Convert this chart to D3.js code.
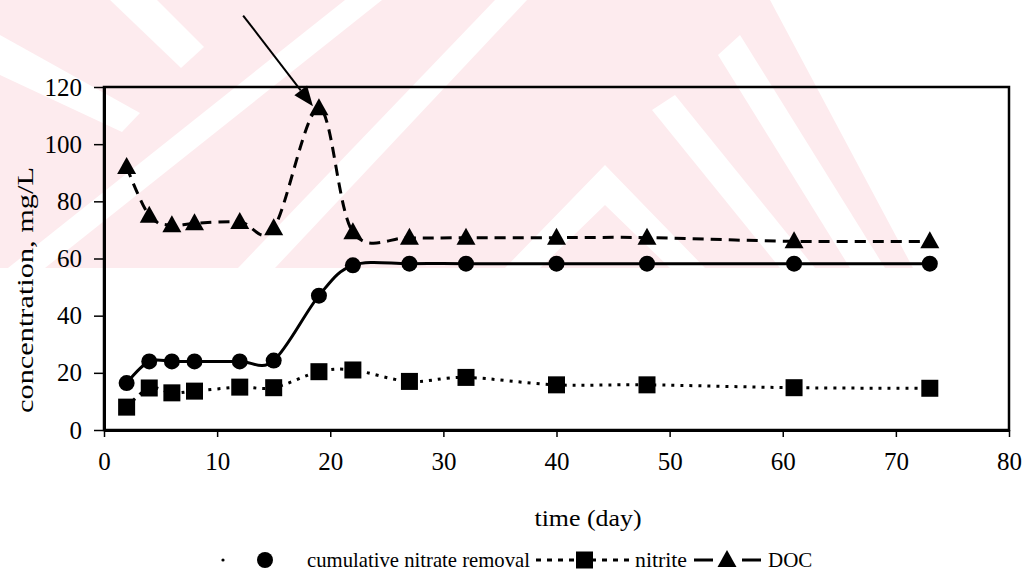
<!DOCTYPE html>
<html><head><meta charset="utf-8">
<script src="https://cdn.jsdelivr.net/npm/d3@7"></script>
<style>body{margin:0;background:#fff;} svg{display:block;}</style>
</head><body>
<svg id="chart" width="1027" height="574"></svg>
<script>
// ---- data ----
const days    = [2, 4, 6, 8, 12, 15, 19, 22, 27, 32, 40, 48, 61, 73];
const nitrate = [16.4, 24, 24, 24, 24, 24.3, 47, 57.6, 58.2, 58.2, 58.2, 58.2, 58.2, 58.2];
const nitrite = [8, 14.7, 13, 13.6, 15, 14.8, 20.4, 21, 17, 18.4, 15.8, 15.8, 14.8, 14.6];
const doc     = [92, 75, 71.6, 72.3, 72.8, 70.6, 112.6, 69.2, 67.3, 67.3, 67.3, 67.3, 66, 66];
const xTicks  = [0, 10, 20, 30, 40, 50, 60, 70, 80];
const yTicks  = [0, 20, 40, 60, 80, 100, 120];
const seriesNames = ["cumulative nitrate removal", "nitrite", "DOC"];
const xTitle = "time (day)";
const yTitle = "concentration, mg/L";
const peakDay = 19; // annotated DOC peak

const svg = d3.select("#chart");
const font = "Liberation Serif";

// ---- watermark (faint pink chevrons) ----
const wm = svg.append("g");
wm.append("polygon").attr("points", "0,0 770,0 913,268 0,268").attr("fill", "#fdebee");
const whites = [
  "110,0 157,0 204,47 181,68",
  "0,35 0,75 122,132 140,113",
  "8,268 45,268 382,0 345,0",
  "238,268 275,268 527,0 495,0",
  "505,268 605,165 705,268 670,268 605,205 540,268",
  "652,110 675,95 815,268 780,268",
  "718,55 740,35 885,268 850,268"
];
wm.selectAll("polygon.w").data(whites).enter().append("polygon")
  .attr("class", "w").attr("points", d => d).attr("fill", "#fff");

// ---- scales ----
const x = d3.scaleLinear().domain([0, 80]).range([104, 1009]);
const y = d3.scaleLinear().domain([0, 120]).range([430, 87]);

// frame
svg.append("rect").attr("x", x(0)).attr("y", y(120))
  .attr("width", x(80) - x(0)).attr("height", y(0) - y(120))
  .attr("fill", "none").attr("stroke", "#000").attr("stroke-width", 2.5);

// axes
const gy = svg.append("g").attr("transform", `translate(${x(0)},0)`)
  .call(d3.axisLeft(y).tickValues(yTicks).tickSize(10).tickSizeOuter(0).tickPadding(12).tickFormat(d3.format("d")));
const gx = svg.append("g").attr("transform", `translate(0,${y(0)})`)
  .call(d3.axisBottom(x).tickValues(xTicks).tickSize(7).tickSizeOuter(0).tickPadding(15).tickFormat(d3.format("d")));
[gx, gy].forEach(g => {
  g.attr("font-family", font).attr("font-size", 25);
  g.select(".domain").attr("stroke-width", 3);
  g.selectAll(".tick line").attr("stroke-width", 1.5);
  g.selectAll("text").attr("font-family", font).attr("font-size", 25).attr("fill", "#000");
});

// titles
svg.append("text").attr("x", 588).attr("y", 526).attr("text-anchor", "middle")
  .attr("font-family", font).attr("font-size", 24).attr("textLength", 107)
  .attr("lengthAdjust", "spacingAndGlyphs").text(xTitle);
svg.append("text").attr("transform", "translate(33,290) rotate(-90)").attr("text-anchor", "middle")
  .attr("font-family", font).attr("font-size", 23).attr("textLength", 246)
  .attr("lengthAdjust", "spacingAndGlyphs").text(yTitle);

// ---- series ----
const curve = d3.curveCardinal.tension(0);
const mk = vals => days.map((d, i) => [d, vals[i]]);
const line = d3.line().x(d => x(d[0])).y(d => y(d[1])).curve(curve);

svg.append("path").datum(mk(doc)).attr("d", line).attr("fill", "none")
  .attr("stroke", "#000").attr("stroke-width", 3).attr("stroke-dasharray", "11,7");
svg.append("path").datum(mk(nitrite)).attr("d", line).attr("fill", "none")
  .attr("stroke", "#000").attr("stroke-width", 3).attr("stroke-dasharray", "3,6");
svg.append("path").datum(mk(nitrate)).attr("d", line).attr("fill", "none")
  .attr("stroke", "#000").attr("stroke-width", 3);

const triPath = "M0,-10L9.5,7L-9.5,7Z";
svg.append("g").selectAll("path").data(mk(doc)).enter().append("path")
  .attr("d", triPath).attr("transform", d => `translate(${x(d[0])},${y(d[1])})`).attr("fill", "#000");
svg.append("g").selectAll("rect").data(mk(nitrite)).enter().append("rect")
  .attr("x", d => x(d[0]) - 8.5).attr("y", d => y(d[1]) - 8.5).attr("width", 17).attr("height", 17).attr("fill", "#000");
svg.append("g").selectAll("circle").data(mk(nitrate)).enter().append("circle")
  .attr("cx", d => x(d[0])).attr("cy", d => y(d[1])).attr("r", 8).attr("fill", "#000");

// ---- annotation arrow ----
const pk = days.indexOf(peakDay);
const tip = [x(peakDay) - 6, y(doc[pk]) - 2];
const start = [x(12.3), y(145)];
const ang = Math.atan2(tip[1] - start[1], tip[0] - start[0]);
const hl = 20, hw = 8;
const base = [tip[0] - hl * Math.cos(ang), tip[1] - hl * Math.sin(ang)];
svg.append("line").attr("x1", start[0]).attr("y1", start[1]).attr("x2", base[0]).attr("y2", base[1])
  .attr("stroke", "#000").attr("stroke-width", 2);
svg.append("polygon").attr("points", [
  tip,
  [base[0] + hw * Math.sin(ang), base[1] - hw * Math.cos(ang)],
  [base[0] - hw * Math.sin(ang), base[1] + hw * Math.cos(ang)]
].map(p => p.join(",")).join(" ")).attr("fill", "#000");

// ---- legend ----
const lg = svg.append("g");
const ly = 560;
lg.append("circle").attr("cx", 223).attr("cy", ly).attr("r", 1.6).attr("fill", "#000");
lg.append("circle").attr("cx", 265).attr("cy", ly).attr("r", 8).attr("fill", "#000");
lg.append("text").attr("x", 307).attr("y", 567).attr("font-family", font).attr("font-size", 21)
  .attr("textLength", 223).attr("lengthAdjust", "spacingAndGlyphs").text(seriesNames[0]);
lg.append("line").attr("x1", 536).attr("x2", 632).attr("y1", ly).attr("y2", ly)
  .attr("stroke", "#000").attr("stroke-width", 3).attr("stroke-dasharray", "5,6");
lg.append("rect").attr("x", 576).attr("y", ly - 8.5).attr("width", 17).attr("height", 17).attr("fill", "#000");
lg.append("text").attr("x", 635).attr("y", 567).attr("font-family", font).attr("font-size", 21)
  .attr("textLength", 52).attr("lengthAdjust", "spacingAndGlyphs").text(seriesNames[1]);
lg.append("line").attr("x1", 694).attr("x2", 761).attr("y1", ly).attr("y2", ly)
  .attr("stroke", "#000").attr("stroke-width", 3).attr("stroke-dasharray", "19,29");
lg.append("path").attr("d", triPath).attr("transform", `translate(727,${ly})`).attr("fill", "#000");
lg.append("text").attr("x", 768).attr("y", 567).attr("font-family", font).attr("font-size", 21)
  .text(seriesNames[2]);
</script>
</body></html>
